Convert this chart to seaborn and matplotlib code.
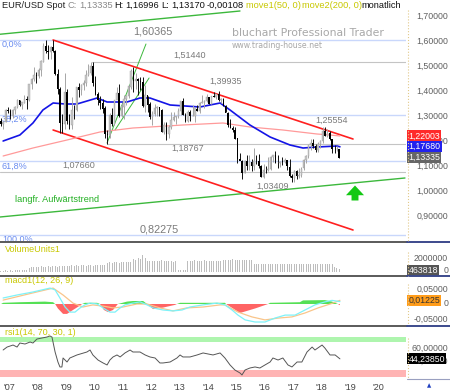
import numpy as np
import pandas as pd
import matplotlib
matplotlib.use('Agg')
import matplotlib.pyplot as plt
import seaborn as sns
from matplotlib.lines import Line2D

sns.set_theme(style='white')
plt.rcParams['font.family'] = ['Liberation Sans', 'DejaVu Sans']

# ------------------------------------------------------------------ data
first_open = 1.2810
# monthly closes / highs / lows, Sep 2006 .. Aug 2018
close_vals = [
    1.2680, 1.2760, 1.3240, 1.3200,
    1.3010, 1.3230, 1.3350, 1.3650, 1.3450, 1.3540, 1.3670, 1.3640, 1.4270, 1.4480, 1.4640, 1.4590,
    1.4840, 1.5180, 1.5790, 1.5610, 1.5550, 1.5750, 1.5600, 1.4670, 1.4100, 1.2730, 1.2700, 1.3970,
    1.2800, 1.2660, 1.3250, 1.3230, 1.4160, 1.4030, 1.4250, 1.4340, 1.4640, 1.4720, 1.5000, 1.4320,
    1.3870, 1.3630, 1.3510, 1.3300, 1.2280, 1.2230, 1.3050, 1.2680, 1.3630, 1.3920, 1.2990, 1.3380,
    1.3690, 1.3820, 1.4180, 1.4810, 1.4390, 1.4500, 1.4390, 1.4380, 1.3390, 1.3860, 1.3460, 1.2960,
    1.3080, 1.3340, 1.3340, 1.3230, 1.2370, 1.2660, 1.2300, 1.2580, 1.2860, 1.2960, 1.2990, 1.3190,
    1.3580, 1.3060, 1.2820, 1.3170, 1.3000, 1.3010, 1.3300, 1.3220, 1.3520, 1.3580, 1.3590, 1.3750,
    1.3490, 1.3810, 1.3770, 1.3870, 1.3630, 1.3690, 1.3390, 1.3130, 1.2630, 1.2520, 1.2450, 1.2100,
    1.1290, 1.1190, 1.0730, 1.1220, 1.0990, 1.1150, 1.0980, 1.1210, 1.1180, 1.1000, 1.0570, 1.0860,
    1.0830, 1.0870, 1.1380, 1.1450, 1.1130, 1.1100, 1.1170, 1.1160, 1.1240, 1.0980, 1.0590, 1.0520,
    1.0800, 1.0580, 1.0650, 1.0900, 1.1240, 1.1420, 1.1840, 1.1910, 1.1810, 1.1650, 1.1900, 1.2000,
    1.2410, 1.2190, 1.2320, 1.2080, 1.1690, 1.1680, 1.1690, 1.13335]
high_vals = [
    1.2900, 1.2800, 1.3289, 1.3366,
    1.3270, 1.3280, 1.3400, 1.3680, 1.3650, 1.3530, 1.3850, 1.3800, 1.4280, 1.4530, 1.4970, 1.4770,
    1.4900, 1.5240, 1.5910, 1.6020, 1.5820, 1.5810, 1.60365, 1.5650, 1.4860, 1.4160, 1.3080, 1.4720,
    1.4080, 1.3080, 1.3740, 1.3450, 1.4170, 1.4340, 1.4300, 1.4440, 1.4840, 1.5060, 1.5144, 1.5140,
    1.4580, 1.3970, 1.3810, 1.3690, 1.3400, 1.2440, 1.3110, 1.3330, 1.3650, 1.4160, 1.4280, 1.3500,
    1.3850, 1.3860, 1.4250, 1.4880, 1.4940, 1.4700, 1.4530, 1.4550, 1.4550, 1.4240, 1.3810, 1.3540,
    1.3180, 1.3490, 1.3380, 1.3330, 1.3280, 1.2750, 1.2740, 1.2640, 1.3170, 1.3140, 1.3010, 1.3310,
    1.3580, 1.3710, 1.3120, 1.3240, 1.3240, 1.3420, 1.3350, 1.3450, 1.3570, 1.3830, 1.3620, 1.3890,
    1.3770, 1.3820, 1.3970, 1.3900, 1.39935, 1.3700, 1.3700, 1.3440, 1.3160, 1.2890, 1.2580, 1.2570,
    1.2100, 1.1530, 1.1240, 1.1220, 1.1460, 1.1430, 1.1280, 1.1710, 1.1460, 1.1500, 1.1040, 1.1060,
    1.0990, 1.1380, 1.1390, 1.1460, 1.1620, 1.1430, 1.1190, 1.1370, 1.1330, 1.1230, 1.1300, 1.0680,
    1.0830, 1.0830, 1.0910, 1.0950, 1.1270, 1.1440, 1.1850, 1.2070, 1.2090, 1.1880, 1.1960, 1.2030,
    1.2540, 1.25554, 1.2470, 1.2410, 1.2100, 1.1850, 1.1790, 1.16996]
low_vals = [
    1.2606, 1.2484, 1.2740, 1.3100,
    1.2867, 1.2930, 1.3070, 1.3310, 1.3410, 1.3280, 1.3520, 1.3260, 1.3600, 1.4080, 1.4400, 1.4340,
    1.4500, 1.4580, 1.5150, 1.5500, 1.5290, 1.5290, 1.5550, 1.4620, 1.3880, 1.2330, 1.2330, 1.2460,
    1.2660, 1.2460, 1.2460, 1.2890, 1.3190, 1.3750, 1.3860, 1.4050, 1.4210, 1.4600, 1.4630, 1.4220,
    1.3860, 1.3440, 1.3270, 1.3120, 1.2140, 1.18767, 1.2140, 1.2590, 1.2650, 1.3690, 1.2970, 1.2960,
    1.2870, 1.3430, 1.3730, 1.4100, 1.3970, 1.4080, 1.3840, 1.4050, 1.3360, 1.3150, 1.3150, 1.2860,
    1.2620, 1.3000, 1.3000, 1.3000, 1.2340, 1.2290, 1.2040, 1.2130, 1.2480, 1.2800, 1.2660, 1.2930,
    1.3030, 1.3020, 1.2750, 1.2750, 1.2790, 1.3000, 1.2750, 1.3200, 1.3100, 1.3500, 1.3300, 1.3550,
    1.3490, 1.3480, 1.3750, 1.3670, 1.3590, 1.3500, 1.3380, 1.3150, 1.2570, 1.2500, 1.2360, 1.2100,
    1.1100, 1.1260, 1.0460, 1.0720, 1.0820, 1.0820, 1.0810, 1.0850, 1.1090, 1.0900, 1.0560, 1.0520,
    1.0710, 1.0810, 1.0820, 1.1150, 1.1100, 1.0910, 1.0950, 1.1050, 1.1120, 1.0850, 1.0570, 1.0350,
    1.03409, 1.0490, 1.0500, 1.0570, 1.0840, 1.1120, 1.1310, 1.1660, 1.1720, 1.1580, 1.1550, 1.1720,
    1.1920, 1.2200, 1.2150, 1.2060, 1.1510, 1.1510, 1.1610, 1.13170]
volume_mio = [
    0.20, 0.22, 0.25, 0.22,
    0.25, 0.22, 0.28, 0.25, 0.30, 0.27, 0.30, 0.35, 0.65, 0.75, 0.80, 0.70,
    0.80, 0.85, 0.75, 0.80, 0.85, 0.80, 0.90, 0.85, 0.80, 0.85, 0.90, 0.85,
    0.95, 0.90, 1.00, 0.95, 1.00, 0.95, 1.05, 1.00, 0.95, 1.05, 1.00, 0.95,
    1.05, 1.00, 1.10, 1.05, 1.10, 1.45, 1.50, 1.40, 1.55, 1.50, 1.45, 1.60,
    1.50, 1.55, 1.50, 1.60, 2.00, 1.90, 2.10, 2.00, 2.60, 2.20, 1.75, 1.70,
    1.70, 1.65, 1.75, 1.70, 1.80, 1.70, 1.65, 1.75, 1.70, 1.60, 1.65, 0.35,
    0.30, 0.35, 0.30, 1.70, 1.75, 1.70, 1.80, 1.65, 1.75, 1.70, 1.80, 1.75,
    1.70, 1.75, 1.70, 1.65, 1.75, 1.70, 1.80, 1.85, 1.90, 1.85, 1.95, 1.85,
    1.90, 1.85, 1.90, 1.85, 1.80, 1.90, 1.85, 1.25, 1.30, 1.25, 1.20, 1.30,
    1.25, 1.30, 1.25, 1.20, 1.30, 1.25, 1.20, 1.25, 1.30, 1.25, 1.20, 1.25,
    1.30, 1.25, 1.20, 1.25, 1.30, 1.25, 1.20, 1.25, 1.30, 1.25, 1.20, 1.25,
    1.30, 1.25, 1.20, 1.25, 1.20, 0.70, 0.60, 0.463818]

# moving averages (decimal year, price)
ma50_dates = [2006.79, 2007.38, 2007.84, 2008.19, 2008.55, 2008.97, 2009.39, 2010.10, 2010.45,
              2011.15, 2011.61, 2011.96, 2012.67, 2013.72, 2014.43, 2014.78, 2015.48, 2016.19,
              2016.89, 2017.35, 2017.84, 2018.55, 2018.65]
ma50_vals = [1.200, 1.224, 1.272, 1.324, 1.352, 1.348, 1.348, 1.372, 1.356,
             1.356, 1.372, 1.372, 1.344, 1.336, 1.352, 1.324, 1.264, 1.216,
             1.184, 1.172, 1.176, 1.180, 1.1768]
ma200_dates = [2006.79, 2007.84, 2009.04, 2010.20, 2011.36, 2011.96, 2013.12, 2014.53,
               2015.48, 2016.64, 2017.84, 2018.30, 2018.65]
ma200_vals = [1.140, 1.172, 1.204, 1.236, 1.252, 1.256, 1.264, 1.272,
              1.256, 1.244, 1.228, 1.224, 1.22003]

# MACD (12, 26, 9)
macd_dates = [2006.79, 2007.28, 2007.84, 2008.44, 2008.62, 2008.79, 2008.97, 2009.14, 2009.32,
              2009.50, 2009.67, 2009.85, 2010.10, 2010.31, 2010.55, 2010.73, 2010.91, 2011.08,
              2011.36, 2011.61, 2011.86, 2012.07, 2012.42, 2012.77, 2013.09, 2013.37, 2013.83,
              2014.32, 2014.60, 2014.85, 2015.06, 2015.31, 2015.66, 2016.01, 2016.36, 2016.72,
              2017.07, 2017.42, 2017.77, 2018.12, 2018.37, 2018.65]
macd_vals = [0.020, 0.030, 0.040, 0.053, 0.047, 0.020, -0.010, -0.027, -0.027,
             -0.013, -0.003, 0.003, 0.000, -0.013, -0.027, -0.027, -0.013, -0.003,
             0.003, 0.007, -0.003, -0.013, -0.020, -0.023, -0.020, -0.010, -0.003,
             0.003, -0.003, -0.020, -0.037, -0.053, -0.060, -0.060, -0.047, -0.037,
             -0.037, -0.020, -0.003, 0.007, 0.012, 0.008]
signal_dates = [2006.79, 2007.84, 2008.55, 2008.90, 2009.25, 2009.60, 2009.95, 2010.31, 2010.66,
                2011.01, 2011.50, 2011.86, 2012.31, 2012.77, 2013.26, 2013.83, 2014.43, 2014.60,
                2015.06, 2015.55, 2016.01, 2016.47, 2016.96, 2017.42, 2017.88, 2018.37, 2018.65]
signal_vals = [0.013, 0.037, 0.053, 0.030, 0.003, -0.010, -0.003, -0.007, -0.013,
               -0.010, 0.000, 0.000, -0.013, -0.023, -0.013, -0.010, -0.003, -0.003,
               -0.027, -0.043, -0.053, -0.047, -0.043, -0.030, -0.013, 0.002, 0.01225]
hist_dates = [2006.72, 2006.79, 2007.38, 2007.84, 2008.26, 2008.55, 2008.62, 2008.72, 2008.90,
              2009.04, 2009.25, 2009.50, 2009.57, 2009.67, 2010.10, 2010.20, 2010.34, 2010.48,
              2010.66, 2010.83, 2011.15, 2011.36, 2011.72, 2011.86, 2012.07, 2012.42, 2012.84,
              2012.91, 2013.02, 2014.60, 2014.64, 2015.13, 2015.66, 2016.12, 2016.19, 2017.24,
              2017.35, 2018.12, 2018.37, 2018.58, 2018.65]
hist_vals = [0.0, 0.004, 0.006, 0.007, 0.008, 0.006, 0.0, -0.015, -0.033,
             -0.033, -0.020, -0.005, 0.0, 0.004, 0.004, 0.0, -0.020, -0.027,
             -0.020, 0.0, 0.008, 0.010, 0.010, 0.0, -0.017, -0.012, -0.003,
             0.0, 0.004, 0.004, 0.0, -0.030, -0.015, 0.0, 0.004, 0.006,
             0.012, 0.013, 0.008, 0.0, -0.004]

# RSI (14)
rsi_dates = [2006.79, 2006.93, 2007.14, 2007.28, 2007.38, 2007.56, 2007.74, 2007.84, 2007.98,
             2008.16, 2008.33, 2008.44, 2008.51, 2008.62, 2008.72, 2008.79, 2008.86, 2008.90,
             2009.04, 2009.14, 2009.39, 2009.74, 2009.85, 2009.95, 2010.13, 2010.31, 2010.45,
             2010.55, 2010.66, 2010.80, 2010.91, 2011.08, 2011.26, 2011.36, 2011.61, 2011.79,
             2011.96, 2012.14, 2012.31, 2012.42, 2012.67, 2012.91, 2013.02, 2013.12, 2013.37,
             2013.62, 2013.83, 2014.18, 2014.43, 2014.60, 2014.78, 2014.95, 2015.13, 2015.20,
             2015.31, 2015.48, 2015.66, 2015.83, 2016.01, 2016.19, 2016.29, 2016.47, 2016.64,
             2016.82, 2016.96, 2017.14, 2017.31, 2017.49, 2017.67, 2017.77, 2018.02, 2018.12,
             2018.30, 2018.48, 2018.65]
rsi_vals = [57.1, 61.4, 64.3, 61.4, 67.2, 65.8, 68.7, 67.2, 73.0,
            74.5, 75.9, 77.4, 75.9, 54.2, 39.7, 32.5, 32.5, 45.5,
            39.7, 45.5, 49.9, 54.2, 57.1, 49.9, 42.6, 38.3, 35.4,
            42.6, 47.0, 49.9, 47.0, 52.8, 57.1, 54.2, 54.2, 49.9,
            47.0, 45.5, 38.3, 38.3, 39.7, 45.5, 49.9, 47.0, 47.0,
            49.9, 52.8, 49.9, 52.8, 45.5, 35.4, 28.1, 23.8, 20.9,
            28.1, 31.0, 32.5, 31.0, 35.4, 39.7, 45.5, 42.6, 45.5,
            35.4, 32.5, 39.7, 39.7, 54.2, 61.4, 57.1, 64.3, 59.9,
            49.9, 49.9, 44.2385]

fib_high, fib_low = 1.60365, 0.82275
fib_levels = [0.0, 0.382, 0.618, 1.0]
fib_labels = ['0,0%', '38,2%', '61,8%', '100,0%']
price_ticks = [0.9, 1.0, 1.1, 1.2, 1.3, 1.4, 1.5, 1.6, 1.7]
years = list(range(2007, 2021))
year_labels = ["'%02d" % (y % 100) for y in years]
header_pieces = [('EUR/USD Spot', '#222222'), ('C:', '#8a8a8a'), ('1,13335', '#8a8a8a'),
                 ('H:', '#111111'), ('1,16996', '#111111'), ('L:', '#111111'),
                 ('1,13170', '#111111'), ('-0,00108', '#111111'),
                 ('move1(50, 0)', '#c8c800'), ('move2(200, 0)', '#c8c800'),
                 ('monatlich', '#111111')]

# ------------------------------------------------------------------ frame
W, H = 450, 391
X0, PXY = 2006.68, 28.4          # left edge of plot, pixels per year
XMAX = X0 + 406 / PXY


def rect(x0, y0, x1, y1):
    return [x0 / W, 1 - y1 / H, (x1 - x0) / W, (y1 - y0) / H]


def fmt(v, n=5):
    return f"{v:.{n}f}".replace('.', ',')


fig = plt.figure(figsize=(4.5, 3.91), dpi=100)
fig.patch.set_facecolor('white')
ax = fig.add_axes(rect(0, 10, 406, 242))
axv = fig.add_axes(rect(0, 243, 406, 276))
axm = fig.add_axes(rect(0, 277, 406, 325))
axr = fig.add_axes(rect(0, 326, 406, 378))
for a in (ax, axv, axm, axr):
    a.set_xlim(X0, XMAX)
    a.set_facecolor('white')
    for s in a.spines.values():
        s.set_visible(False)
    a.set_xticks([])
    a.set_yticks([])

ax.set_ylim(0.796, 1.724)
axv.set_ylim(-0.615, 4.46)
axm.set_ylim(-0.07, 0.09)
axr.set_ylim(16.5, 91.9)

n = len(close_vals)
dates = np.array([2006 + 8 / 12 + (i + 0.5) / 12 for i in range(n)])
c = np.array(close_vals)
o = np.concatenate([[first_open], c[:-1]])
h = np.array(high_vals)
l = np.array(low_vals)
up = c >= o

# fib + level lines
for lv in fib_levels:
    ax.axhline(fib_high - lv * (fib_high - fib_low), color='#c9d7fb', lw=1.0, zorder=1)
ax.plot([2009.92, XMAX], [1.51440] * 2, color='#c4c4c4', lw=0.8, zorder=1)
ax.plot([2010.45, XMAX], [1.18767] * 2, color='#c4c4c4', lw=0.8, zorder=1)
ax.axhline(1.07660, color='#c4c4c4', lw=0.8, zorder=1)

# trend lines
ax.plot([2006.68, 2020.94], [0.896, 1.052], color='#3cb83c', lw=1.0, zorder=2)
ax.plot([2006.68, 2015.13], [1.627, 1.72], color='#3cb83c', lw=1.0, zorder=2)
ax.plot([2010.45, 2011.82], [1.192, 1.588], color='#3cb83c', lw=0.7, zorder=2)
ax.plot([2010.73, 2011.93], [1.244, 1.452], color='#3cb83c', lw=0.7, zorder=2)
ax.plot([2008.55, 2019.11], [1.604, 1.208], color='#ff2020', lw=1.2, zorder=2)
ax.plot([2008.55, 2019.11], [1.244, 0.844], color='#ff2020', lw=1.2, zorder=2)

# moving averages
sns.lineplot(x=ma200_dates, y=ma200_vals, ax=ax, color='#ff9a9a', lw=0.9, zorder=3)
sns.lineplot(x=ma50_dates, y=ma50_vals, ax=ax, color='#1414e6', lw=1.2, zorder=3)

# candles
bw = 0.052
body = np.maximum(np.abs(c - o), 0.002)
bot = np.minimum(c, o)
ax.vlines(dates[up], l[up], h[up], color='#a6a6a6', lw=0.7, zorder=4)
ax.bar(dates[up], body[up], bottom=bot[up], width=bw, color='#c8c8c8',
       edgecolor='#a0a0a0', linewidth=0.3, zorder=5)
ax.vlines(dates[~up], l[~up], h[~up], color='#101010', lw=0.7, zorder=4)
ax.bar(dates[~up], body[~up], bottom=bot[~up], width=bw, color='#000000',
       linewidth=0, zorder=5)

# level labels
grey = '#7a7a7a'
ax.text(2012.05, 1.636, fmt(1.60365), fontsize=7.8, color=grey, ha='center', va='center')
ax.text(2013.35, 1.544, fmt(1.51440), fontsize=6.5, color=grey, ha='center', va='center')
ax.text(2014.64, 1.440, fmt(1.39935), fontsize=6.5, color=grey, ha='center', va='center')
ax.text(2018.37, 1.284, fmt(1.25554), fontsize=6.5, color=grey, ha='center', va='center')
ax.text(2013.28, 1.172, fmt(1.18767), fontsize=6.5, color=grey, ha='center', va='center')
ax.text(2009.46, 1.104, fmt(1.07660), fontsize=6.5, color=grey, ha='center', va='center')
ax.text(2016.29, 1.020, fmt(1.03409), fontsize=6.5, color=grey, ha='center', va='center')
ax.text(2012.28, 0.848, fmt(0.82275), fontsize=7.8, color=grey, ha='center', va='center')
fib_y = [1.588, 1.288, 1.100, 0.808]
for lab, yy in zip(fib_labels, fib_y):
    ax.text(2006.75, yy, lab, fontsize=6.5, color='#6a8cf0', ha='left', va='center')
ax.text(2007.21, 0.964, 'langfr. Aufwärtstrend', fontsize=6.6, color='#22b022',
        ha='left', va='center')
ax.annotate('', xy=(2019.18, 1.022), xytext=(2019.18, 0.962),
            arrowprops=dict(facecolor='#14c814', edgecolor='none', width=5,
                            headwidth=13, headlength=7), zorder=6)

# right price scale
ax_tr = ax.get_yaxis_transform()
for p in price_ticks:
    ax.text(448 / 406, p, fmt(p), transform=ax_tr, fontsize=6.3, color='#606060',
            ha='right', va='center', clip_on=False)
for val, colr in [(1.22003, '#ff2a2a'), (1.17680, '#2222ee'), (1.13335, '#666666')]:
    ax.text(408.5 / 406, val, fmt(val), transform=ax_tr, fontsize=6.3, color='white',
            ha='left', va='center', clip_on=False, zorder=10,
            bbox=dict(boxstyle='square,pad=0.12', facecolor=colr, edgecolor='none'))

# volume
axv.bar(dates, volume_mio, width=0.035, color='#bdbdbd', linewidth=0)
axv.text(0.012, 0.8, 'VolumeUnits1', transform=axv.transAxes, fontsize=6.5,
         color='#c8c800', ha='left', va='center')
axv_tr = axv.get_yaxis_transform()
axv.text(448 / 406, 2.0, '2000000', transform=axv_tr, fontsize=6.3, color='#606060',
         ha='right', va='center', clip_on=False)
axv.text(448 / 406, 0.3, '0', transform=axv_tr, fontsize=6.3, color='#606060',
         ha='right', va='center', clip_on=False)
axv.text(408.5 / 406, 0.3, '463818', transform=axv_tr, fontsize=6.3, color='white',
         ha='left', va='center', clip_on=False,
         bbox=dict(boxstyle='square,pad=0.12', facecolor='#555555', edgecolor='none'))

# macd
hd = np.array(hist_dates)
hv = np.array(hist_vals)
axm.fill_between(hd, hv, 0, where=hv >= 0, color='#55e055', interpolate=True, lw=0)
axm.fill_between(hd, hv, 0, where=hv <= 0, color='#ff6464', interpolate=True, lw=0)
sns.lineplot(x=signal_dates, y=signal_vals, ax=axm, color='#f9c58a', lw=0.9)
sns.lineplot(x=macd_dates, y=macd_vals, ax=axm, color='#7ef2f8', lw=0.9)
axm.set_xlim(X0, XMAX)
axm.text(0.012, 0.92, 'macd1(12, 26, 9)', transform=axm.transAxes, fontsize=6.5,
         color='#c8c800', ha='left', va='center')
axm_tr = axm.get_yaxis_transform()
for v, lab in [(0.05, '0,05000'), (0.0, '0'), (-0.05, '-0,05000')]:
    axm.text(448 / 406, v, lab, transform=axm_tr, fontsize=6.3, color='#606060',
             ha='right', va='center', clip_on=False)
axm.text(408.5 / 406, 0.01225, '0,01225', transform=axm_tr, fontsize=6.3, color='#333333',
         ha='left', va='center', clip_on=False, zorder=10,
         bbox=dict(boxstyle='square,pad=0.12', facecolor='#ff9c1a', edgecolor='none'))

# rsi
axr.axhspan(68.7, 75.9, color='#aef5ae', lw=0)
axr.axhspan(18.5, 28.1, color='#ffb4b4', lw=0)
sns.lineplot(x=rsi_dates, y=rsi_vals, ax=axr, color='#555555', lw=0.7)
axr.set_xlim(X0, XMAX)
axr.text(0.012, 0.88, 'rsi1(14, 70, 30, 1)', transform=axr.transAxes, fontsize=6.5,
         color='#c8c800', ha='left', va='center')
axr_tr = axr.get_yaxis_transform()
axr.text(448 / 406, 60, '60,00000', transform=axr_tr, fontsize=6.3, color='#606060',
         ha='right', va='center', clip_on=False)
axr.text(448 / 406, 40, '40,00000', transform=axr_tr, fontsize=6.3, color='#606060',
         ha='right', va='center', clip_on=False)
axr.text(408.5 / 406, 44.2385, '44,23850', transform=axr_tr, fontsize=6.3, color='white',
         ha='left', va='center', clip_on=False, zorder=10,
         bbox=dict(boxstyle='square,pad=0.12', facecolor='#000000', edgecolor='none'))
axr.set_xticks(years)
axr.set_xticklabels(year_labels)
axr.tick_params(axis='x', length=0, pad=3.5, labelsize=6.5, labelcolor='#444444')
for a in (ax, axv, axm, axr):
    a.set_xlabel('')
    a.set_ylabel('')
    a.set_yticks([])


# separators and right-scale borders
def fline(x0, x1, y0, y1, **kw):
    fig.add_artist(Line2D([x0 / W, x1 / W], [1 - y0 / H, 1 - y1 / H], **kw))


for yy in (242.5, 276.3, 325.5):
    fline(0, 407, yy, yy, color='#5a5a5a', lw=1.4)
    fline(407, 450, yy, yy, color='#3c4a8c', lw=1.4)
fline(407, 450, 378.5, 378.5, color='#9aa0c0', lw=0.8)
for y0, y1 in [(10, 242), (252, 276), (284, 325), (338, 378)]:
    fline(407.5, 407.5, y0, y1, color='#e2c98a', lw=0.8, ls=':')
fig.text(429 / W, 1 - 386 / H, '▲', fontsize=4, color='#2040c0', ha='center', va='center',
         family='DejaVu Sans')

# watermark
fig.text(232 / W, 1 - 33 / H, 'bluchart Professional Trader', fontsize=7.8,
         color='#a8a8a8', ha='left', va='center', family='DejaVu Sans')
fig.text(232 / W, 1 - 45 / H, 'www.trading-house.net', fontsize=5.6,
         color='#a8a8a8', ha='left', va='center', family='DejaVu Sans')

# header, laid out piece by piece to fit the width of the plot
renderer = fig.canvas.get_renderer()
ty = 1 - 5.5 / H
fs = 7.0
for _ in range(2):
    probe = [fig.text(0, ty, t, fontsize=fs) for t, _c in header_pieces]
    sp = fig.text(0, ty, 'a a', fontsize=fs)
    spw = sp.get_window_extent(renderer).width - fig.text(0, ty, 'aa', fontsize=fs).get_window_extent(renderer).width
    widths = [p.get_window_extent(renderer).width for p in probe]
    for t in fig.texts[-(len(probe) + 2):]:
        t.remove()
    total = sum(widths) + spw * (len(widths) - 2) + 2
    fs = fs * 402 / total
xpos = 2.0
for i, ((t, colr), wdt) in enumerate(zip(header_pieces, widths)):
    fig.text(xpos / W, ty, t, fontsize=fs, color=colr, ha='left', va='center')
    xpos += wdt * 1.0
    if i != len(header_pieces) - 2:
        xpos += spw

fig.savefig('out.png', dpi=100)
